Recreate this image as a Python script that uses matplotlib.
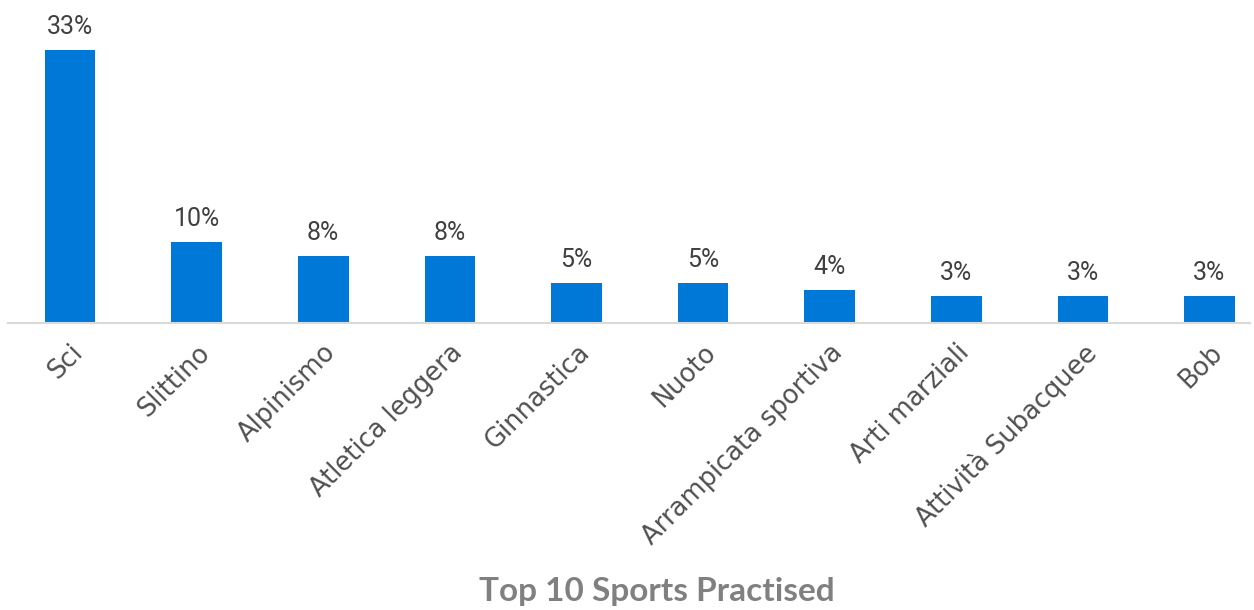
import matplotlib
matplotlib.use("Agg")
import matplotlib.pyplot as plt

sports = ["Sci", "Slittino", "Alpinismo", "Atletica leggera", "Ginnastica",
          "Nuoto", "Arrampicata sportiva", "Arti marziali",
          "Attività Subacquee", "Bob"]
share = [33, 9.8, 8.1, 8.1, 4.8, 4.8, 4.0, 3.3, 3.3, 3.3]

plt.rcParams['font.family'] = ['DejaVu Sans']

fig = plt.figure(figsize=(12.54, 6.10), dpi=100)
ax = fig.add_axes([8/1254, 1 - 323/610, 1242/1254, 298/610])

x = range(len(sports))
bars = ax.bar(x, share, width=0.40, color='#0078d7')
for b, v in zip(bars, share):
    ax.annotate("{:.0f}%".format(v), (b.get_x() + b.get_width()/2, v),
                xytext=(0, 8), textcoords='offset points',
                ha='center', va='bottom', fontsize=18, color='#404040',
                family=['Roboto', 'DejaVu Sans'])

# category centres sit ~126.6 px apart, axis line runs 8..1250 px
ax.set_xlim(-0.49, 9.32)
ax.set_ylim(0, 36)
ax.set_xticks(list(x))
ax.set_xticklabels(sports, rotation=45, ha='right', rotation_mode='anchor',
                   fontsize=18.5, color='#505050')
ax.tick_params(axis='x', length=0, pad=12)
ax.set_yticks([])
for s in ['top', 'right', 'left']:
    ax.spines[s].set_visible(False)
ax.spines['bottom'].set_color('#d9d9d9')
ax.spines['bottom'].set_linewidth(1.5)

fig.text(657/1254, 1 - 591/610, "Top 10 Sports Practised", ha='center',
         va='center', fontsize=24, fontweight='bold', color='#808080',
         family=['Lato', 'DejaVu Sans'])

fig.savefig("out.png", dpi=100)
